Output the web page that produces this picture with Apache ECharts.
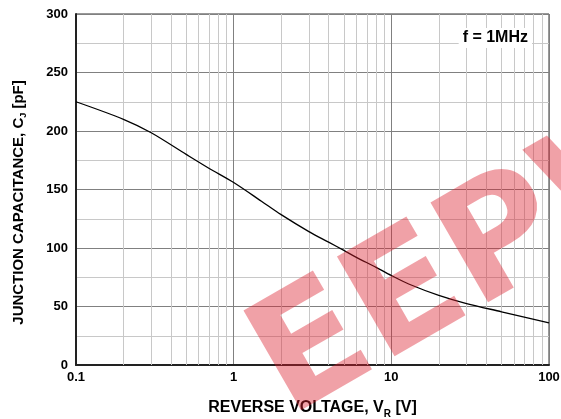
<!DOCTYPE html>
<html>
<head>
<meta charset="utf-8">
<script src="https://cdn.jsdelivr.net/npm/echarts@6/dist/echarts.min.js"></script>
<style>
  html, body { margin: 0; padding: 0; background: #fff; }
  #chart { width: 561px; height: 419px; }
</style>
</head>
<body>
<div id="chart"></div>
<script>
// reverse voltage [V] and junction capacitance [pF]
const voltage = [0.1, 0.2, 0.3, 0.5, 0.7, 1, 1.5, 2, 3, 4, 5, 6, 8, 10, 13, 20, 30, 50, 100]
const capacitance = [225, 210, 198.5, 180, 168, 156, 140, 128.5, 114, 105, 98, 92, 83.5, 76.5, 69, 59.5, 52.5, 45.5, 36]

// minor vertical grid lines of the log axis
const minorX = [0.2, 0.3, 0.4, 0.5, 0.6, 0.7, 0.8, 0.9,
  2, 3, 4, 5, 6, 7, 8, 9,
  20, 30, 40, 50, 60, 70, 80, 90]

const chart = echarts.init(document.getElementById('chart'))

const boldFont = { fontFamily: 'Liberation Sans, Arial', fontWeight: 'bold', color: '#000' }

const option = {
  animation: false,
  grid: {
    left: 76,
    right: 12,
    top: 14,
    bottom: 54,
    outerBoundsMode: 'none',
    show: true,
    borderColor: '#333',
    borderWidth: 1
  },
  xAxis: {
    type: 'log',
    logBase: 10,
    min: 0.1,
    max: 100,
    name: '{t|REVERSE VOLTAGE, V}{s|R}{t| [V]}',
    nameLocation: 'middle',
    nameGap: 32,
    nameTextStyle: {
      rich: {
        t: { ...boldFont, fontSize: 16 },
        s: { ...boldFont, fontSize: 10, padding: [12, 0, 0, 0] }
      }
    },
    axisLine: { show: true, lineStyle: { color: '#222', width: 2 } },
    axisTick: { show: false },
    axisLabel: {
      ...boldFont,
      fontSize: 13,
      margin: 6,
      formatter: v => String(v)
    },
    splitLine: { show: true, lineStyle: { color: '#808080', width: 1 } }
  },
  yAxis: {
    type: 'value',
    min: 0,
    max: 300,
    interval: 50,
    name: '{t|JUNCTION CAPACITANCE, C}{s|J}{t| [pF]}',
    nameLocation: 'middle',
    nameGap: 48,
    nameTextStyle: {
      padding: [0, 26, 0, 0],
      rich: {
        t: { ...boldFont, fontSize: 15 },
        s: { ...boldFont, fontSize: 9, padding: [10, 0, 0, 0] }
      }
    },
    axisLine: { show: true, lineStyle: { color: '#222', width: 2 } },
    axisTick: { show: false },
    axisLabel: { ...boldFont, fontSize: 13, margin: 8 },
    splitLine: { show: true, lineStyle: { color: '#808080', width: 1 } },
    minorTick: { show: false, splitNumber: 2 },
    minorSplitLine: { show: true, lineStyle: { color: '#c8c8c8', width: 1 } }
  },
  series: [
    {
      type: 'line',
      data: voltage.map((v, i) => [v, capacitance[i]]),
      smooth: 0.3,
      showSymbol: false,
      lineStyle: { color: '#000', width: 1.3 },
      z: 5,
      markLine: {
        silent: true,
        symbol: 'none',
        label: { show: false },
        lineStyle: { color: '#c8c8c8', width: 1, type: 'solid' },
        data: minorX.map(v => ({ xAxis: v })),
        z: 1
      }
    }
  ],
  graphic: [
    {
      type: 'text',
      right: 29,
      top: 28,
      z: 10,
      style: {
        text: 'f = 1MHz',
        font: 'bold 16px "Liberation Sans", Arial',
        fill: '#000',
        backgroundColor: '#fff',
        padding: [2, 4, 2, 4]
      }
    },
    {
      // EEPW watermark over the plot
      type: 'text',
      x: 268,
      y: 382,
      rotation: Math.PI * 30 / 180,
      z: 20,
      silent: true,
      style: {
        text: 'EEPW',
        font: 'bold 158px "DejaVu Sans"',
        fill: 'rgba(220, 30, 45, 0.42)',
        align: 'left',
        verticalAlign: 'middle'
      }
    }
  ]
}

chart.setOption(option)
</script>
</body>
</html>
